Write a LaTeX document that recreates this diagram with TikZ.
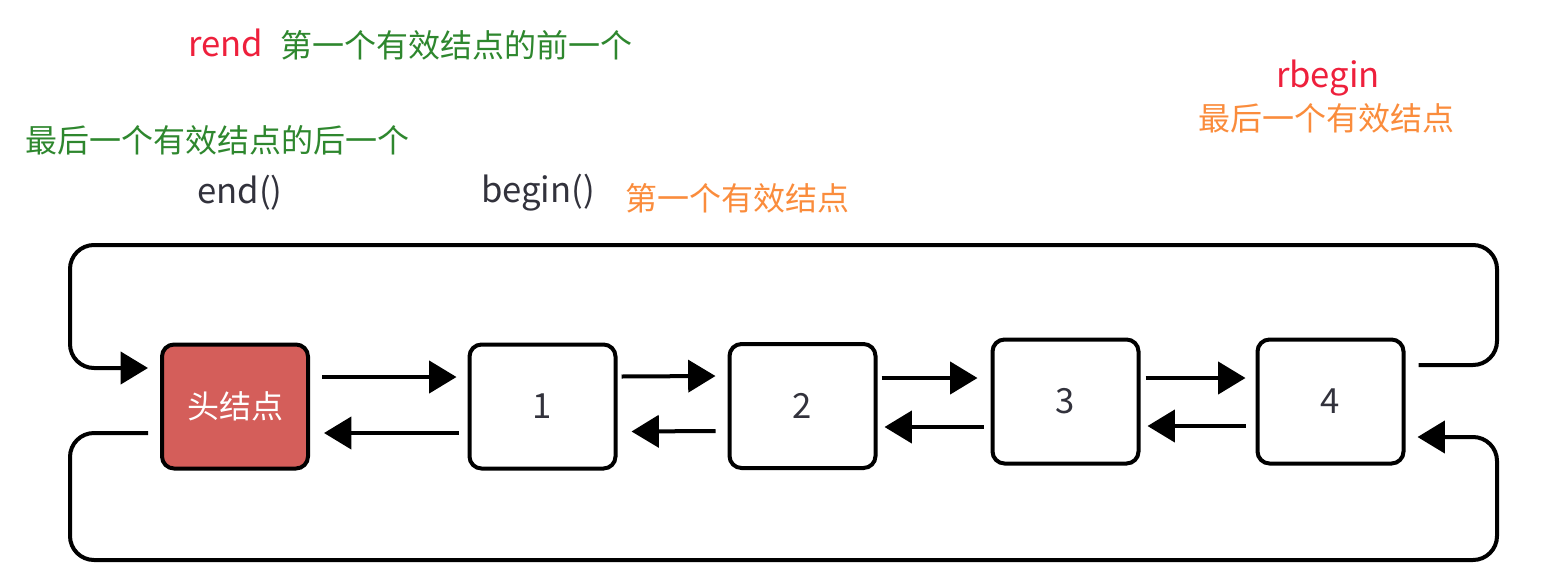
\documentclass[tikz,border=0pt]{standalone}
\usepackage{fontspec}
\setmainfont{Noto Sans CJK SC}
\usetikzlibrary{arrows.meta,calc}
\definecolor{headred}{RGB}{212,94,90}
\definecolor{tagred}{RGB}{238,32,60}
\definecolor{notegreen}{RGB}{46,135,46}
\definecolor{noteorange}{RGB}{250,140,60}
\definecolor{codegray}{RGB}{50,50,60}
\tikzset{every picture/.style={line width=0.75pt}}

\begin{document}
\begin{tikzpicture}[x=0.75pt,y=0.75pt,yscale=-1,xscale=1,
	box/.style={draw, line width=3pt, rounded corners=9pt, minimum width=109.5pt, minimum height=93pt, font=\fontsize{26}{30}\selectfont, text=codegray},
	link/.style={line width=3pt, -{Triangle[length=20.5pt,width=24pt]}},
	ring/.style={link, rounded corners=18pt},
	txt/.style={font=\fontsize{24}{28}\selectfont, inner sep=0pt},
	code/.style={font=\fontsize{26}{30}\selectfont, inner sep=0pt}]
	\useasboundingbox (0,0) rectangle (1545,579); %set diagram size 1545 x 579

	%Shape: Rectangle [head]
	\node [box, fill=headred, text=white, font=\fontsize{24}{28}\selectfont] (head) at (235,406.5) {头结点};
	%Shape: Rectangle [1..4]
	\node [box] (n1) at (542.5,406.5) {1};
	\node [box] (n2) at (802.5,406) {2};
	\node [box] (n3) at (1065.5,401.5) {3};
	\node [box] (n4) at (1330.5,401.5) {4};

	%corners of the outer loop
	\coordinate (tr) at (1497,245);
	\coordinate (tl) at (70,245);
	\coordinate (bl) at (70,560);
	\coordinate (br) at (1497,560);

	%Straight Lines [next]
	\draw [link] ($(head.east)+(12,-29.5)$) -- ($(n1.west)+(-11,-29.5)$);
	\draw [link] ($(n1.east)+(4,-30)$) -- ($(n2.west)+(-12,-30)$);
	\draw [link] ($(n2.east)+(4,-28)$) -- ($(n3.west)+(-13,-23.5)$);
	\draw [link] ($(n3.east)+(5,-23.5)$) -- ($(n4.west)+(-10,-23.5)$);
	%Straight Lines [prev]
	\draw [link] ($(n1.west)+(-9,26.5)$) -- ($(head.east)+(14,26.5)$);
	\draw [link] ($(n2.west)+(-12,25)$) -- ($(n1.east)+(14,25)$);
	\draw [link] ($(n3.west)+(-7,25.5)$) -- ($(n2.east)+(7,21)$);
	\draw [link] ($(n4.west)+(-10,24.5)$) -- ($(n3.east)+(7,24.5)$);
	%Curve Lines [4 -> head]
	\draw [ring] ($(n4.east)+(13,-36.5)$) -| (tr) -- (tl) |- ($(head.west)+(-12,-38.5)$);
	%Curve Lines [head -> 4]
	\draw [ring] ($(head.west)+(-12,26.5)$) -| (bl) -- (br) |- ($(n4.east)+(12,35.5)$);

	% Text Node
	\node [code, text=tagred, anchor=west] (rend) at (188,43) {rend};
	% Text Node
	\node [txt, text=notegreen, anchor=west] (rendnote) at (280,45) {第一个有效结点的前一个};
	% Text Node
	\node [txt, text=notegreen, anchor=west] (endnote) at (25,140) {最后一个有效结点的后一个};
	% Text Node
	\node [code, text=codegray] (endfn) at (240,193) {end()};
	% Text Node
	\node [code, text=codegray] (beginfn) at (538,193) {begin()};
	% Text Node
	\node [txt, text=noteorange, anchor=west] (beginnote) at (625,198) {第一个有效结点};
	% Text Node
	\node [code, text=tagred] (rbegin) at (1328,78) {rbegin};
	% Text Node
	\node [txt, text=noteorange, anchor=west] (rbeginnote) at (1198,118) {最后一个有效结点};

\end{tikzpicture}
\end{document}
